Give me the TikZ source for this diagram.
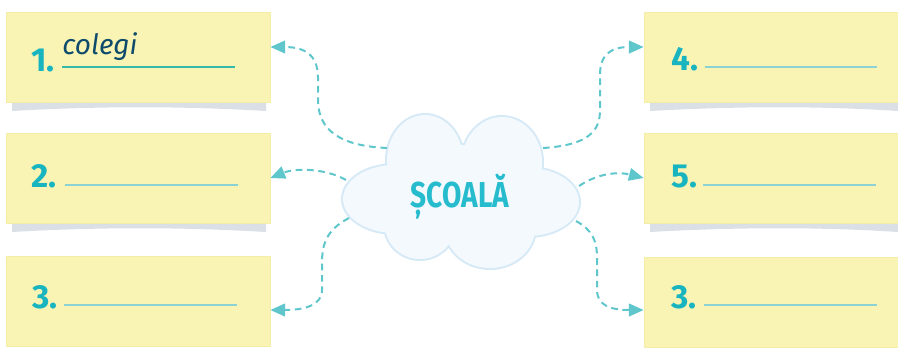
\documentclass[tikz,border=0pt]{standalone}
\usepackage{fontspec}
\setmainfont{Fira Sans}
\usetikzlibrary{arrows.meta}
\definecolor{boxyellow}{RGB}{249,244,180}
\definecolor{boxedge}{RGB}{243,237,168}
\definecolor{shadowgrey}{RGB}{218,224,230}
\definecolor{numteal}{RGB}{24,180,192}
\definecolor{textblue}{RGB}{14,74,107}
\definecolor{lineA}{RGB}{52,186,170}
\definecolor{lineB}{RGB}{140,210,212}
\definecolor{dashteal}{RGB}{95,199,204}
\definecolor{cloudfill}{RGB}{243,249,253}
\definecolor{cloudedge}{RGB}{214,233,246}
\definecolor{cloudtext}{RGB}{38,188,206}
\begin{document}
\begin{tikzpicture}[x=0.75pt,y=-0.75pt,
  box/.style={fill=boxyellow,draw=boxedge,line width=0.6pt,inner sep=0pt,minimum height=67.5pt},
  leftbox/.style={box,minimum width=198pt},
  rightbox/.style={box,minimum width=190.5pt},
  numlabel/.style={anchor=base west,inner sep=0pt,text=numteal,font=\fontsize{25}{25}\selectfont\bfseries},
  blank/.style={line width=0.8pt,draw=lineB},
  link/.style={draw=dashteal,line width=1.5pt,dash pattern=on 5pt off 3.5pt,-{Triangle[length=11pt,width=9.5pt,fill=dashteal]}},
  shadowpart/.style={fill=shadowgrey,draw=none}
]
\useasboundingbox (0,0) rectangle (898,351);
% shadows
\foreach \yy in {102,223}{
  \path[shadowpart] (12,\yy-6) -- (266,\yy-6) -- (266,\yy+9) .. controls (180,\yy+4) and (100,\yy+4) .. (12,\yy+9) -- cycle;
  \path[shadowpart] (650,\yy-6) -- (898,\yy-6) -- (898,\yy+9) .. controls (820,\yy+4) and (740,\yy+4) .. (650,\yy+9) -- cycle;
}
% boxes
\node[leftbox] (b1) at (138,57) {};
\node[leftbox] (b2) at (138,178) {};
\node[leftbox] (b3) at (138,301) {};
\node[rightbox] (b4) at (771,57) {};
\node[rightbox] (b5) at (771,178) {};
\node[rightbox] (b6) at (771,302) {};
% numbers and blanks
\node[numlabel] (n1) at (31,71) {1.};
\node[anchor=base west,inner sep=0pt,text=textblue,font=\fontsize{21}{21}\selectfont\itshape] (col) at (62,54) {colegi};
\draw[line width=0.8pt,draw=lineA] (62,67) -- (235,67);
\node[numlabel] (n2) at (31,187) {2.};
\draw[blank] (65,185) -- (238,185);
\node[numlabel] (n3) at (32,308) {3.};
\draw[blank] (64,305) -- (237,305);
\node[numlabel] (n4) at (671,70) {4.};
\draw[blank] (705,67) -- (877,67);
\node[numlabel] (n5) at (671,187) {5.};
\draw[blank] (703,185) -- (876,185);
\node[numlabel] (n6) at (671,308) {3.};
\draw[blank] (704,305) -- (877,305);
% cloud
\def\cloudparts{
  (395,199) ellipse [x radius=52,y radius=34]
  (425,160) ellipse [x radius=38,y radius=45]
  (502,162) ellipse [x radius=40,y radius=45]
  (528,202) ellipse [x radius=51,y radius=34]
  (490,228) ellipse [x radius=45,y radius=40]
  (420,225) ellipse [x radius=35,y radius=34]
  (460,195) ellipse [x radius=75,y radius=50]
}
\draw[cloudedge,line width=3pt] \cloudparts;
\fill[cloudfill] \cloudparts;
\node[inner sep=0pt,anchor=base,text=cloudtext,font=\fontsize{27}{27}\selectfont\bfseries] (scoala) at (460,207) {\scalebox{0.78}[1]{ȘCOALĂ}};
% connector ends
\coordinate (c1) at (387,148);
\coordinate (c2) at (346,180);
\coordinate (c3) at (349,218);
\coordinate (c4) at (543,148);
\coordinate (c5) at (579,186);
\coordinate (c6) at (576,221);
\coordinate (t1) at ([yshift=7.5pt]b1.east);
\coordinate (t2) at (b2.east);
\coordinate (t3) at ([yshift=-6.75pt]b3.east);
\coordinate (t4) at ([yshift=7.5pt]b4.west);
\coordinate (t5) at (b5.west);
\coordinate (t6) at ([yshift=-6pt]b6.west);
% connectors
\draw[link] (c1) .. controls (340,146) and (318,130) .. (318,100) -- (318,78) .. controls (318,55) and (305,47) .. (t1);
\draw[link] (c2) .. controls (325,168) and (295,168) .. (t2);
\draw[link] (c3) .. controls (330,228) and (322,240) .. (322,262) -- (322,290) .. controls (322,305) and (305,310) .. (t3);
\draw[link] (c4) .. controls (590,145) and (600,130) .. (600,110) -- (600,75) .. controls (600,55) and (610,47) .. (t4);
\draw[link] (c5) .. controls (600,172) and (620,172) .. (t5);
\draw[link] (c6) .. controls (592,230) and (597,240) .. (597,258) -- (597,290) .. controls (597,305) and (610,310) .. (t6);
\end{tikzpicture}
\end{document}
